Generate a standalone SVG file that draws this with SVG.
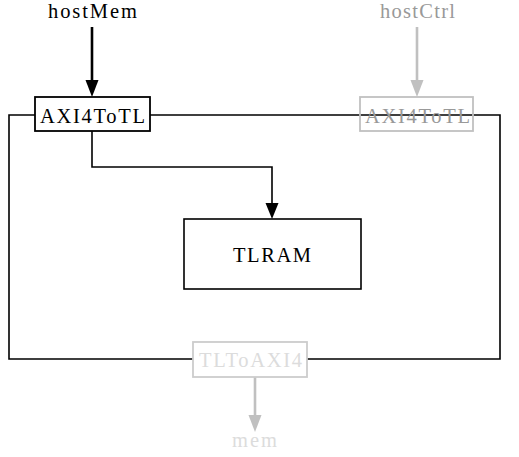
<svg xmlns="http://www.w3.org/2000/svg" width="519" height="457" viewBox="0 0 519 457">
<style>
text{font-family:"Liberation Serif","DejaVu Serif",serif;font-size:20.5px;text-anchor:middle}
.blk{fill:#000}
.g1{fill:#999}
.g2{fill:#dcdcdc}
</style>
<rect width="519" height="457" fill="#fff"/>
<g id="connectors" fill="none">
<path d="M35,115H9V359H193M307,359H500V115H473M150,115H360M360,115H473" stroke="#000" stroke-width="1.6"/>
<path d="M92,27V82" stroke="#000" stroke-width="2.6"/>
<path d="M92,131V167H272V205" stroke="#000" stroke-width="1.6"/>
<path d="M417,27V82" stroke="#c0c0c0" stroke-width="2.6"/>
<path d="M255,377V417" stroke="#c0c0c0" stroke-width="2.6"/>
<path d="M265.5,203L278.5,203L272,219z" fill="#000"/>
<path d="M85.5,80L98.5,80L92,97z" fill="#000"/>
<path d="M410.5,80L423.5,80L417,97z" fill="#c0c0c0"/>
<path d="M248.5,415L261.5,415L255,432z" fill="#c0c0c0"/>
</g>
<g id="hostMem"><text x="92.5" y="18" class="blk" textLength="89" lengthAdjust="spacing">hostMem</text></g>
<g id="hostCtrl"><text x="417.5" y="18" class="g1" textLength="75" lengthAdjust="spacing">hostCtrl</text></g>
<g id="axi4totl_mem">
<rect x="35" y="97" width="115" height="34" fill="#fff" stroke="#000" stroke-width="1.8"/>
<text x="92.5" y="123" class="blk" textLength="105" lengthAdjust="spacing">AXI4ToTL</text>
</g>
<g id="axi4totl_ctrl">
<rect x="360" y="97" width="113" height="34" fill="none" stroke="#c0c0c0" stroke-width="1.8"/>
<text x="417.5" y="123" class="g1" textLength="105" lengthAdjust="spacing">AXI4ToTL</text>
</g>
<g id="tlram">
<rect x="184" y="219" width="177" height="70" fill="#fff" stroke="#000" stroke-width="1.6"/>
<text x="272" y="262" class="blk" textLength="78" lengthAdjust="spacing">TLRAM</text>
</g>
<g id="tltoaxi4">
<rect x="193" y="342" width="114" height="35" fill="#fff" stroke="#cccccc" stroke-width="1.8"/>
<text x="250.5" y="367" class="g2" textLength="103" lengthAdjust="spacing">TLToAXI4</text>
</g>
<g id="mem"><text x="254.5" y="447" class="g2" textLength="45" lengthAdjust="spacing">mem</text></g>
</svg>
